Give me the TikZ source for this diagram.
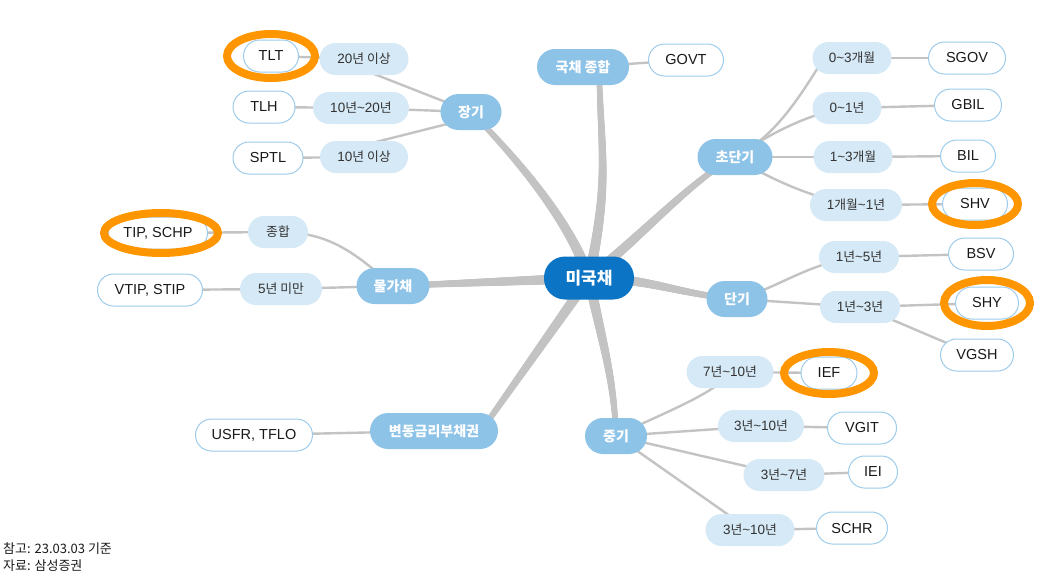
\documentclass[tikz,border=0pt]{standalone}
\usepackage{fontspec}
\setmainfont{Liberation Sans}
\newfontfamily\korfont[Scale=0.95]{Noto Sans CJK KR}
\newfontfamily\korbig{Noto Sans CJK KR}
\newcommand\kor[1]{{\korfont #1}}
\newcommand\tld{\textasciitilde}
\usetikzlibrary{backgrounds,decorations.markings}
\definecolor{rootblue}{HTML}{0B74C4}
\definecolor{catblue}{HTML}{8EC3E8}
\definecolor{subblue}{HTML}{D6E9F6}
\definecolor{leafline}{HTML}{9DCBEB}
\definecolor{branchgray}{HTML}{C3C3C3}
\definecolor{hlorange}{HTML}{FF9600}
\tikzset{
  rootnode/.style={fill=rootblue, text=white, font=\korbig\bfseries\fontsize{17}{20}\selectfont, rounded corners=21pt, minimum height=43pt, inner sep=0pt},
  catnode/.style={fill=catblue, text=white, font=\korbig\bfseries\fontsize{14}{17}\selectfont, rounded corners=18pt, minimum height=36pt, inner sep=0pt},
  subnode/.style={fill=subblue, text=black!80, font=\fontsize{13.5}{16}\selectfont, rounded corners=16pt, minimum height=32pt, inner sep=0pt},
  leafnode/.style={fill=white, draw=leafline, line width=1pt, text=black!90, font=\fontsize{14.5}{17}\selectfont, rounded corners=16pt, minimum height=32pt, inner sep=0pt},
  trunk/.style={postaction={decorate}, decoration={markings,
      mark=between positions 0 and 1 step 0.8pt with {%
        \pgfmathsetmacro\trr{5.4-2.8*(\pgfkeysvalueof{/pgf/decoration/mark info/distance from start})/(\pgfdecoratedpathlength)}%
        \fill[branchgray] (0,0) circle [radius=\trr pt];}}},
  twig/.style={draw=branchgray, line width=2.4pt},
  hlring/.style={draw=hlorange, line width=8pt},
  note/.style={anchor=west, inner sep=0pt, text=black!90, font=\korbig\fontsize{13}{15}\selectfont}
}
\begin{document}
\begin{tikzpicture}[x=1pt,y=-1pt]
\useasboundingbox (0,0) rectangle (1063,579);
% root and categories
\node[rootnode, minimum width=90pt] (root) at (589,278) {미국채};
\node[catnode, minimum width=92pt] (govcat) at (583,67) {국채 종합};
\node[leafnode, minimum width=75pt] (govt) at (686,60) {GOVT};
% long
\node[catnode, minimum width=61pt] (long) at (471,112) {장기};
\node[subnode, minimum width=89pt] (l20) at (364,59) {20\kor{년 이상}};
\node[leafnode, minimum width=55pt] (tlt) at (271,56) {TLT};
\node[subnode, minimum width=96pt] (l1020) at (361,108) {10\kor{년}\tld 20\kor{년}};
\node[leafnode, minimum width=62pt] (tlh) at (264,107) {TLH};
\node[subnode, minimum width=88pt] (l10) at (364,157) {10\kor{년 이상}};
\node[leafnode, minimum width=70pt] (sptl) at (268,158) {SPTL};
% tips
\node[catnode, minimum width=73pt] (tips) at (393,286) {물가채};
\node[subnode, minimum width=60pt] (tall) at (278,232) {\kor{종합}};
\node[leafnode, minimum width=99pt] (tip) at (158,233) {TIP, SCHP};
\node[subnode, minimum width=82pt] (t5) at (281,289) {5\kor{년 미만}};
\node[leafnode, minimum width=105pt] (vtip) at (150,290) {VTIP, STIP};
% frn
\node[catnode, minimum width=128pt] (frn) at (434,431) {변동금리부채권};
\node[leafnode, minimum width=117pt] (usfr) at (254,435) {USFR, TFLO};
% ultra short
\node[catnode, minimum width=75pt] (ultra) at (735,157) {초단기};
\node[subnode, minimum width=79pt] (u03m) at (852,58) {0\tld 3\kor{개월}};
\node[leafnode, minimum width=77pt] (sgov) at (967,58) {SGOV};
\node[subnode, minimum width=69pt] (u01y) at (847,108) {0\tld 1\kor{년}};
\node[leafnode, minimum width=67pt] (gbil) at (968,105) {GBIL};
\node[subnode, minimum width=79pt] (u13m) at (853,157) {1\tld 3\kor{개월}};
\node[leafnode, minimum width=55pt] (bil) at (968,156) {BIL};
\node[subnode, minimum width=92pt] (u1m1y) at (856,205) {1\kor{개월}\tld 1\kor{년}};
\node[leafnode, minimum width=65pt] (shv) at (975,204) {SHV};
% short
\node[catnode, minimum width=61pt] (short) at (737,299) {단기};
\node[subnode, minimum width=80pt] (s15) at (859,257) {1\kor{년}\tld 5\kor{년}};
\node[leafnode, minimum width=65pt] (bsv) at (981,254) {BSV};
\node[subnode, minimum width=80pt] (s13) at (860,307) {1\kor{년}\tld 3\kor{년}};
\node[leafnode, minimum width=63pt] (shy) at (987,303) {SHY};
\node[leafnode, minimum width=73pt] (vgsh) at (977,355) {VGSH};
% mid
\node[catnode, minimum width=62pt] (mid) at (616,436) {중기};
\node[subnode, minimum width=87pt] (m710) at (730,372) {7\kor{년}\tld 10\kor{년}};
\node[leafnode, minimum width=56pt] (ief) at (829,373) {IEF};
\node[subnode, minimum width=86pt] (m310a) at (761,426) {3\kor{년}\tld 10\kor{년}};
\node[leafnode, minimum width=69pt] (vgit) at (862,428) {VGIT};
\node[subnode, minimum width=81pt] (m37) at (784,475) {3\kor{년}\tld 7\kor{년}};
\node[leafnode, minimum width=49pt] (iei) at (873,472) {IEI};
\node[subnode, minimum width=89pt] (m310b) at (750,530) {3\kor{년}\tld 10\kor{년}};
\node[leafnode, minimum width=71pt] (schr) at (852,528) {SCHR};
% notes
\node[note] (note1) at (3,549) {참고: 23.03.03 기준};
\node[note] (note2) at (3,566) {자료: 삼성증권};

\begin{scope}[on background layer]
% trunks (tapered)
\path[trunk] (root.center) .. controls +(21,-100) and +(2,90) .. ([xshift=16pt]govcat.center);
\path[trunk] (root.center) .. controls +(-20,-60) and +(40,40) .. (long.center);
\path[trunk] (root.center) .. controls +(50,-40) and +(-40,20) .. (ultra.center);
\path[trunk] (root.center) .. controls +(60,0) and +(-60,-5) .. (short.center);
\path[trunk] (root.center) -- (tips.center);
\path[trunk] (root.center) -- ([xshift=40pt,yshift=-10pt]frn.center);
\path[trunk] (root.center) .. controls +(12,60) and +(-2,-60) .. (mid.center);
% twigs
\draw[twig] (govcat.center) -- (govt.center);
\draw[twig] ([yshift=-11pt]l20.center) -- (long.center);
\draw[twig] (l1020.center) -- (long.center);
\draw[twig] ([yshift=12pt]l10.center) -- ([yshift=-6pt]long.center);
\draw[twig] (tlt.center) -- (l20.center);
\draw[twig] (tlh.center) -- (l1020.center);
\draw[twig] (sptl.center) -- (l10.center);
\draw[twig] (tall.center) .. controls +(50,0) and +(-40,-35) .. (tips.center);
\draw[twig] (t5.center) -- (tips.center);
\draw[twig] (tip.center) -- (tall.center);
\draw[twig] (vtip.center) -- (t5.center);
\draw[twig] (usfr.center) -- (frn.center);
\draw[twig] (ultra.center) .. controls +(40,-20) and +(-25,40) .. ([xshift=-28pt]u03m.center);
\draw[twig] (ultra.center) .. controls +(30,-20) and +(-40,5) .. (u01y.center);
\draw[twig] (ultra.center) -- (u13m.center);
\draw[twig] (ultra.center) .. controls +(30,20) and +(-40,-5) .. (u1m1y.center);
\draw[twig] (u03m.center) -- (sgov.center);
\draw[twig] (u01y.center) -- (gbil.center);
\draw[twig] (u13m.center) -- (bil.center);
\draw[twig] (u1m1y.center) -- (shv.center);
\draw[twig] (short.center) .. controls +(40,-10) and +(-50,5) .. (s15.center);
\draw[twig] (short.center) -- (s13.center);
\draw[twig] (s15.center) -- (bsv.center);
\draw[twig] (s13.center) -- (shy.center);
\draw[twig] (s13.center) .. controls +(40,15) and +(-40,-15) .. (vgsh.center);
\draw[twig] (mid.center) .. controls +(40,-20) and +(-10,20) .. (m710.center);
\draw[twig] (mid.center) -- (m310a.center);
\draw[twig] (mid.center) -- (m37.center);
\draw[twig] (mid.center) -- (m310b.center);
\draw[twig] (m710.center) -- (ief.center);
\draw[twig] (m310a.center) -- (vgit.center);
\draw[twig] (m37.center) -- (iei.center);
\draw[twig] (m310b.center) -- (schr.center);
\end{scope}
% highlight rings
\draw[hlring] (tlt.center) ellipse [x radius=44pt, y radius=22pt];
\draw[hlring] ([xshift=3pt]tip.center) ellipse [x radius=57pt, y radius=20pt];
\draw[hlring] (shv.center) ellipse [x radius=43pt, y radius=21pt];
\draw[hlring] (shy.center) ellipse [x radius=43pt, y radius=23pt];
\draw[hlring] (ief.center) ellipse [x radius=45pt, y radius=21pt];
\end{tikzpicture}
\end{document}
